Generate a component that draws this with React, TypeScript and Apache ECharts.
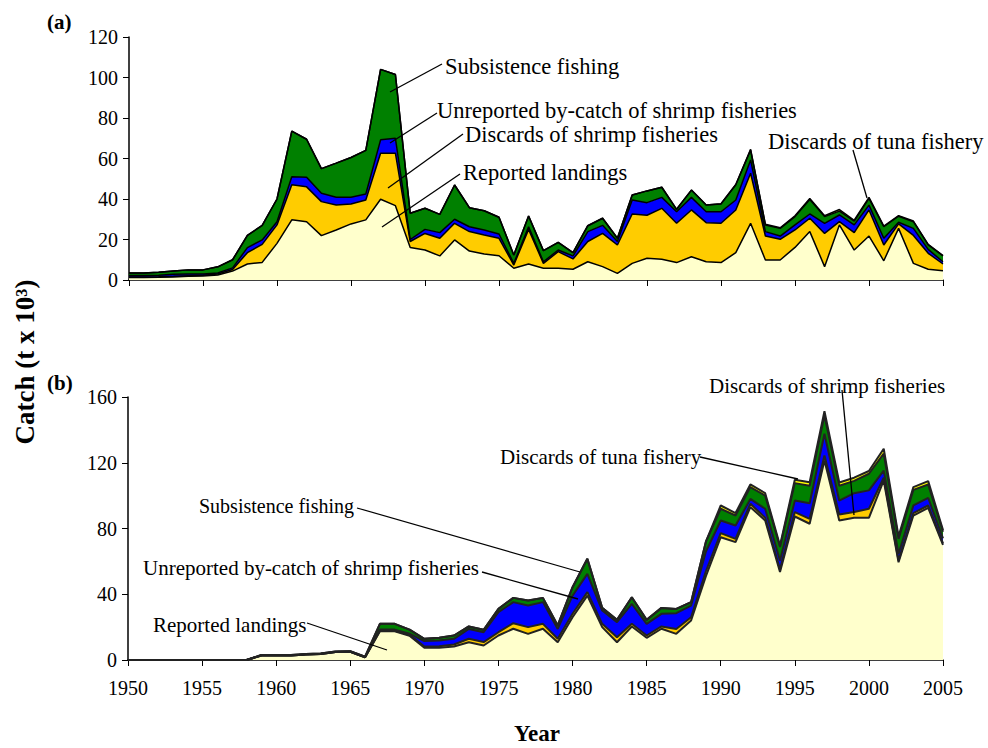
import React, { useEffect, useRef } from "react";
import * as echarts from "echarts";

const years: string[] = Array.from({ length: 56 }, (_, i) => String(1950 + i));

// Panel (a) — individual layer values (t x 10^3)
const reportedA = [1.2,1.2,1.3,1.5,1.8,2.0,2.5,4.4,7.9,8.7, 18.1,29.7,28.8,21.9,24.7,27.7,29.7,39.9,36.7,16.0, 14.8,11.9,19.8,14.3,12.8,12.0,5.8,7.9,5.8,5.8, 5.3,9.0,6.6,3.3,8.2,10.7,10.2,8.6,11.5,9.0, 8.6,13.5,28.0,9.9,9.9,16.1,23.9,6.6,27.2,14.8, 21.7,9.5,25.5,8.2,5.3,4.6];
const shrimpDiscA = [0.3,0.3,0.3,0.3,0.3,0.3,0.5,0.8,5.6,8.9, 9.1,17.3,17.2,16.8,12.3,9.8,9.8,22.7,25.9,3.0, 8.2,8.7,8.2,9.6,9.4,8.6,1.6,17.1,2.4,8.2, 5.1,10.0,16.4,14.0,24.4,21.3,25.2,19.4,23.1,19.3, 19.4,21.1,24.7,11.8,10.2,8.6,6.6,16.4,1.6,8.6, 12.9,7.8,2.2,13.8,7.9,3.3];
const unrepA = [0.7,0.7,0.8,1.0,0.9,0.7,0.5,0.8,2.5,2.2, 1.6,4.0,4.7,4.1,3.9,3.4,3.0,6.6,7.4,1.0, 2.0,2.8,2.0,2.4,2.5,2.1,0.8,1.3,0.8,0.8, 1.5,4.9,4.0,1.7,6.9,6.2,5.4,5.7,6.2,5.4, 5.7,4.9,6.6,2.2,1.6,2.5,2.1,5.0,3.3,3.8, 2.4,3.3,0.8,3.5,1.9,1.1];
const subsistA = [1.3,1.3,1.4,1.7,2.0,2.0,3.0,4.0,6.0,7.2, 11.2,22.5,18.8,12.2,16.8,19.6,21.5,34.8,31.5,13.0, 10.4,9.0,16.9,9.4,9.5,8.3,4.1,5.3,5.5,3.8, 1.6,2.9,3.5,1.6,2.5,5.8,5.0,1.2,3.6,3.3, 3.8,7.5,4.9,3.3,3.8,4.1,7.2,3.3,1.9,1.9, 3.3,5.7,3.0,3.3,2.2,2.9];
const tunaA = [0,0,0,0,0,0,0,0,0,0, 0,0,0,0,0,0,0,0,0,0, 0,0,0,0,0,0,0,0,0,0, 0,0,0,0,0,0,0,0,0,0, 0.2,0.2,0.3,0.3,0.3,0.4,0.5,0.4,0.8,0.4, 0.5,0.3,0.3,0.3,0.3,0.2];

// Panel (b)
const reportedB = [0,0,0,0,0,0,0,0,0,2.7, 2.7,2.8,3.3,3.7,4.8,5.0,1.7,17.5,17.5,14.8, 7.4,7.4,8.2,10.8,8.8,14.9,19.0,15.9,19.0,10.8, 26.0,39.2,20.0,10.8,20.4,13.5,19.0,15.9,24.0,51.0, 74.7,71.7,93.0,84.9,53.5,87.3,82.9,121.4,84.9,86.5, 86.5,109.2,59.5,87.9,92.6,70.0];
const shrimpDiscB = [0,0,0,0,0,0,0,0,0,0, 0,0,0,0,0,0,0,0.3,0.3,0.5, 0.8,1.0,1.2,2.1,2.1,2.0,3.4,4.1,3.0,2.1, 2.1,2.1,2.0,3.1,1.6,1.4,1.4,3.0,2.0,3.0, 2.5,2.0,2.0,1.6,1.5,2.7,3.0,3.0,3.6,3.5, 5.5,1.7,1.0,1.5,1.4,1.0];
const unrepB = [0,0,0,0,0,0,0,0,0,0, 0,0,0,0,0,0,0,0.7,0.7,0.7, 3.3,3.5,3.5,6.0,6.0,12.2,12.8,13.1,13.2,6.0, 11.1,11.1,8.1,9.1,12.2,7.1,7.7,9.6,7.1,12.0, 7.7,8.1,3.0,5.5,5.5,7.0,9.5,13.2,8.5,11.5, 11.2,4.3,4.1,4.6,4.7,3.0];
const subsistB = [0,0,0,0,0,0,0,0,0,0.3, 0.3,0.3,0.3,0.3,0.3,0.3,0.3,3.5,3.5,2.5, 1.4,1.6,2.0,1.5,1.5,2.0,2.6,3.1,2.6,2.1, 5.1,9.2,1.6,1.4,4.0,2.4,3.6,2.6,2.1,6.0, 7.1,6.1,7.2,8.0,8.2,10.6,10.6,11.2,9.0,7.5, 10.1,10.3,9.1,9.5,8.1,4.0];
const tunaB = [0,0,0,0,0,0,0,0,0,0, 0,0,0,0,0,0,0,0,0,0, 0,0,0,0,0,0,0,0,0,0, 0,0,0,0,0,0,0,0,0,0, 2.0,1.5,1.6,1.5,1.0,2.0,2.2,2.6,2.0,1.9, 1.7,3.0,1.5,1.7,2.0,1.0];

const seriesNames = [
  "Reported landings",
  "Discards of shrimp fisheries",
  "Unreported by-catch of shrimp fisheries",
  "Subsistence fishing",
  "Discards of tuna fishery",
];
const colors = ["#FFFFCC", "#FFCC00", "#0000FF", "#008000", "#FFFF00"];

const FONT = "Liberation Serif, Times New Roman, serif";

export default function App() {
  const ref = useRef<HTMLDivElement>(null);
  useEffect(() => {
    if (!ref.current) return;
    const chart = echarts.init(ref.current, undefined, { renderer: "svg" });

    const mk = (name: string, vals: number[], color: string, idx: number, lw: number, lc: string) => ({
      type: "line",
      name,
      xAxisIndex: idx,
      yAxisIndex: idx,
      stack: "s" + idx,
      symbol: "none",
      data: vals,
      areaStyle: { color, opacity: 1 },
      lineStyle: { color: lc, width: lw },
      emphasis: { disabled: true },
    });

    const layersA = [reportedA, shrimpDiscA, unrepA, subsistA, tunaA];
    const layersB = [reportedB, shrimpDiscB, unrepB, subsistB, tunaB];

    const xAxisBase = (idx: number, showLabels: boolean) => ({
      type: "category",
      gridIndex: idx,
      data: years,
      boundaryGap: false,
      axisLine: { show: true, lineStyle: { color: "#000", width: 1.5 } },
      axisTick: { show: true, interval: 4, length: 6, inside: false, lineStyle: { color: "#000", width: 1 } },
      splitLine: { show: false },
      axisLabel: {
        show: showLabels,
        interval: 4,
        color: "#000",
        fontFamily: FONT,
        fontSize: 20,
        margin: 18,
      },
    });
    const yAxisBase = (idx: number, max: number, interval: number) => ({
      type: "value",
      gridIndex: idx,
      min: 0,
      max,
      interval,
      axisLine: { show: true, lineStyle: { color: "#000", width: 1.5 } },
      axisTick: { show: true, length: 6, inside: false, lineStyle: { color: "#000", width: 1 } },
      splitLine: { show: false },
      axisLabel: { color: "#000", fontFamily: FONT, fontSize: 20, margin: 11 },
    });

    const txt = (text: string, x: number, y: number, size: number, extra: any = {}) => ({
      type: "text",
      x,
      y,
      z: 100,
      style: {
        text,
        fill: "#000",
        fontFamily: FONT,
        fontSize: size,
        fontWeight: extra.bold ? "bold" : "normal",
        align: extra.align || "left",
        verticalAlign: "middle",
      },
      rotation: extra.rotation || 0,
    });
    const ln = (x1: number, y1: number, x2: number, y2: number) => ({
      type: "line",
      z: 100,
      shape: { x1, y1, x2, y2 },
      style: { stroke: "#000", lineWidth: 1.3 },
    });

    chart.setOption({
      animation: false,
      backgroundColor: "#fff",
      grid: [
        { left: 129, top: 37, width: 814, height: 243 },
        { left: 128, top: 397, width: 815, height: 263 },
      ],
      xAxis: [xAxisBase(0, false), xAxisBase(1, true)],
      yAxis: [yAxisBase(0, 120, 20), yAxisBase(1, 160, 40)],
      series: [
        ...layersA.map((d, i) => mk(seriesNames[i], d, colors[i], 0, 1.5, "#000")),
        ...layersB.map((d, i) => mk(seriesNames[i], d, colors[i], 1, 2, "#222")),
      ],
      graphic: [
        txt("(a)", 47, 22, 21, { bold: true }),
        txt("(b)", 47, 383, 21, { bold: true }),
        txt("Year", 537, 733, 23, { bold: true, align: "center" }),
        txt("Catch (t x 10³)", 25, 362, 27, { bold: true, align: "center", rotation: Math.PI / 2 }),
        // panel (a) annotations
        txt("Subsistence fishing", 445, 66, 22.5),
        ln(442, 64, 390, 92),
        txt("Unreported by-catch of shrimp fisheries", 437, 110, 22.5),
        ln(437, 113, 390, 143),
        txt("Discards of shrimp fisheries", 465, 134, 22.5),
        ln(463, 134, 388, 188),
        txt("Reported landings", 463, 172, 22.5),
        ln(460, 174, 382, 227),
        txt("Discards of tuna fishery", 768, 141, 22.5),
        ln(853, 150, 867, 198),
        // panel (b) annotations
        txt("Discards of shrimp fisheries", 709, 386, 21),
        ln(842, 390, 854, 515),
        txt("Discards of tuna fishery", 500, 457, 21),
        ln(700, 457, 798, 479),
        txt("Subsistence fishing", 199, 506, 20),
        ln(357, 508, 580, 572),
        txt("Unreported by-catch of shrimp fisheries", 143, 568, 21),
        ln(482, 572, 578, 599),
        txt("Reported landings", 153, 625, 21),
        ln(307, 623, 387, 650),
      ],
    });
    return () => chart.dispose();
  }, []);
  return (
    <div
      ref={ref}
      style={{ position: "absolute", left: 0, top: 0, width: 988, height: 748, background: "#fff" }}
    />
  );
}
